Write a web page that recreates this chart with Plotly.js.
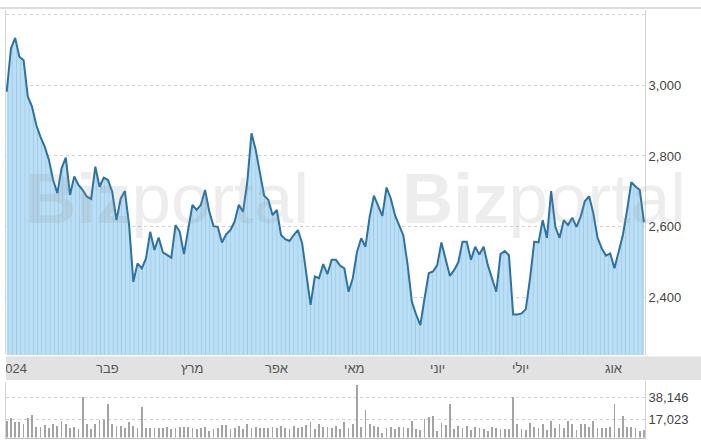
<!DOCTYPE html>
<html>
<head>
<meta charset="utf-8">
<script src="https://cdn.plot.ly/plotly-3.0.1.min.js"></script>
<style>
html,body{margin:0;padding:0;background:#fff}
#wrap{position:relative;width:701px;height:441px}
#chart{width:701px;height:441px}
#edge{position:absolute;left:0;top:354px;width:6px;height:28px;background:#fff}
</style>
</head>
<body>
<div id="wrap"><div id="chart"></div><div id="edge"></div></div>
<script>
// Daily closing values (one per trading day)
const prices = [
  2981, 3103, 3133, 3080, 3070, 2967, 2939, 2887, 2854, 2826,
  2789, 2732, 2695, 2765, 2795, 2690, 2742, 2718, 2704, 2685,
  2679, 2770, 2713, 2739, 2732,
  2699, 2619, 2680, 2701, 2605, 2445, 2497, 2483, 2511, 2586,
  2535, 2570, 2528, 2521, 2513, 2605, 2586, 2523, 2596, 2662,
  2648, 2662, 2704, 2643, 2602,
  2600, 2556, 2579, 2591, 2615, 2662, 2643, 2727, 2864, 2817,
  2756, 2688, 2676, 2633, 2648, 2577, 2565, 2560, 2577, 2591,
  2554, 2469, 2380, 2460, 2455,
  2495, 2467, 2507, 2507, 2491, 2483, 2417, 2455, 2530, 2568,
  2544, 2629, 2688, 2657, 2631, 2711, 2680, 2633, 2605, 2575,
  2492, 2389, 2353, 2323, 2398,
  2469, 2474, 2492, 2556, 2507, 2462, 2478, 2500, 2558, 2558,
  2507, 2544, 2522, 2544, 2492, 2455, 2417, 2523, 2532, 2520,
  2353, 2353, 2356, 2368, 2455,
  2558, 2556, 2619, 2569, 2701, 2600, 2569, 2619, 2605, 2626,
  2600, 2629, 2673, 2686, 2638, 2569, 2539, 2519, 2525, 2483,
  2530, 2577, 2648, 2726, 2714, 2704, 2613
];

// Daily volumes
const volumes = [
  16000, 19000, 15000, 14500, 13000, 19000, 22000, 10000, 10500, 12000,
  9000, 13000, 11000, 16000, 12500, 9000, 10000, 8500, 38700, 12500,
  8000, 13000, 16500, 16500, 31700, 13000, 11000, 11500, 9000, 15000,
  11500, 9000, 29000, 9500, 9500, 9000, 9000, 9500, 10000, 8500,
  9000, 10000, 10000, 10000, 9000, 8500, 9000, 10500, 6000, 8500,
  9500, 12000, 12000, 8000, 9000, 11000, 8500, 12500, 9000, 10000,
  9500, 9000, 9000, 10000, 9500, 11000, 9500, 8500, 11000, 9000,
  10500, 12000, 15000, 8500, 12500, 10000, 10000, 9500, 11000, 8000,
  15000, 9500, 13000, 50000, 10500, 26000, 13000, 11500, 10000, 4000,
  9000, 10500, 8300, 10500, 10500, 9300, 16300, 8300, 7400, 17900,
  20000, 21000, 6000, 13800, 12200, 31700, 8300, 11500, 9300, 11500,
  7400, 10000, 9000, 8300, 6000, 10000, 9300, 8600, 8300, 8300,
  38700, 12500, 8000, 7400, 13800, 10500, 9300, 12500, 7400, 16300,
  9300, 12500, 9300, 16300, 13000, 7400, 12500, 12500, 10500, 16300,
  9300, 9300, 9300, 10500, 31700, 9300, 20800, 10500, 10500, 9300,
  6700, 7400
];

// Month labels and their position on the trading-day index
const monthLabels = ['2024', 'פבר', 'מרץ', 'אפר', 'מאי', 'יוני', 'יולי', 'אוג'];
const monthPos = [1.4, 23.9, 44.0, 64.0, 82.2, 102.1, 121.7, 143.8];

// Axis ticks
const priceTicks = [2400, 2600, 2800, 3000, 3200];
const priceTickText = ['2,400', '2,600', '2,800', '3,000', ''];
const volTicks = [17023, 38146];
const volTickText = ['17,023', '38,146'];

const idx = prices.map((_, i) => i);
const W = 701, H = 441, L = 6, R = 56;
const px = v => (v - L) / (W - L - R);   // pixel x -> paper x
const py = v => 1 - v / H;               // pixel y -> paper y

const FONT = 'Arial, "Liberation Sans", sans-serif';

const traces = [
  {
    x: idx, y: prices, type: 'scatter', mode: 'lines',
    line: {color: '#2d72a1', width: 2},
    fill: 'tozeroy', fillcolor: '#bcdff5',
    fillpattern: {shape: '|', size: 4.2, solidity: 0.22, fgcolor: '#a0cdea', bgcolor: '#bcdff5', fgopacity: 1},
    xaxis: 'x', yaxis: 'y', hoverinfo: 'skip'
  },
  {
    x: idx, y: volumes, type: 'bar',
    marker: {color: '#a3a3a3', line: {width: 0}},
    width: 0.42,
    xaxis: 'x2', yaxis: 'y2', hoverinfo: 'skip'
  }
];

const xr = [-0.17, 151.24];
const annotations = monthLabels.map((t, i) => ({
  x: monthPos[i], xref: 'x', y: py(368.5), yref: 'paper',
  text: t, showarrow: false, xanchor: 'center', yanchor: 'middle',
  font: {family: FONT, size: 13, color: '#555'}
}));
// watermarks
[23, 400].forEach(xx => annotations.push({
  x: px(xx), xref: 'paper', y: py(198), yref: 'paper',
  text: '<b>Biz</b>portal', showarrow: false, xanchor: 'left', yanchor: 'middle',
  font: {family: FONT, size: 71, color: 'rgba(150,150,150,0.17)'}
}));

const layout = {
  width: W, height: H,
  margin: {l: L, r: R, t: 0, b: 0, pad: 0},
  paper_bgcolor: '#ffffff', plot_bgcolor: '#ffffff',
  showlegend: false,
  bargap: 0,
  xaxis: {domain: [0, 1], range: xr, anchor: 'y', showgrid: false, zeroline: false,
          showticklabels: false, ticks: '', showline: false, fixedrange: true},
  yaxis: {domain: [py(355), py(10)], range: [2238.6, 3211.6], side: 'right', anchor: 'x',
          tickvals: priceTicks, ticktext: priceTickText, ticks: '',
          showgrid: true, gridcolor: '#d2d2d2', griddash: 'dot', gridwidth: 1,
          zeroline: false, showline: true, mirror: true, linecolor: '#d4d4d4', linewidth: 1,
          tickfont: {family: FONT, size: 13, color: '#444'}, fixedrange: true},
  xaxis2: {domain: [0, 1], range: xr, anchor: 'y2', showgrid: false, zeroline: false,
           showticklabels: false, ticks: '', showline: true, linecolor: '#bdbdbd', linewidth: 1, fixedrange: true},
  yaxis2: {domain: [py(437.5), py(381)], range: [0, 54240], side: 'right', anchor: 'x2',
           tickvals: volTicks, ticktext: volTickText, ticks: '',
           showgrid: true, gridcolor: '#d2d2d2', griddash: 'dot', gridwidth: 1,
           zeroline: false, showline: true, mirror: true, linecolor: '#d4d4d4', linewidth: 1,
           tickfont: {family: FONT, size: 13, color: '#444'}, fixedrange: true},
  shapes: [
    {type: 'rect', xref: 'paper', yref: 'paper', x0: px(6), x1: px(701), y0: py(380), y1: py(356.5),
     fillcolor: '#e2e2e2', line: {width: 0}, layer: 'above'},
    {type: 'line', xref: 'paper', yref: 'paper', x0: px(0), x1: px(701), y0: py(8), y1: py(8),
     line: {color: '#d2d2d2', width: 1.5}}
  ],
  annotations: annotations
};

Plotly.newPlot('chart', traces, layout, {displayModeBar: false, staticPlot: true});
</script>
</body>
</html>
